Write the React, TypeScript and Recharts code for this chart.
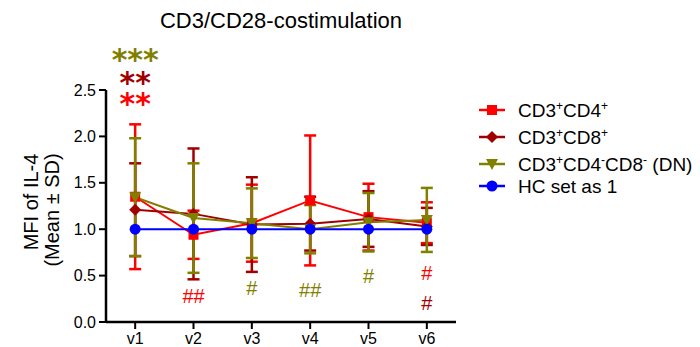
import { ComposedChart, Line, XAxis, YAxis, ErrorBar, ReferenceDot } from "recharts";

const categories = ["v1", "v2", "v3", "v4", "v5", "v6"];

// mean and SD per visit
const cd4Mean = [1.35, 0.94, 1.065, 1.31, 1.13, 1.07];
const cd4Sd = [0.78, 0.26, 0.415, 0.7, 0.36, 0.22];
const cd8Mean = [1.21, 1.165, 1.05, 1.06, 1.11, 1.03];
const cd8Sd = [0.5, 0.705, 0.51, 0.29, 0.3, 0.2];
const dnMean = [1.345, 1.12, 1.065, 1.0, 1.075, 1.1];
const dnSd = [0.635, 0.59, 0.375, 0.26, 0.315, 0.345];
const hcValue = [1, 1, 1, 1, 1, 1];

const yTicks = [0, 0.5, 1, 1.5, 2, 2.5];

// significance marks: category, text, series, level (y value of text baseline)
const markCategory = ["v1", "v1", "v1", "v2", "v3", "v4", "v5", "v6", "v6"];
const markText = ["***", "**", "**", "##", "#", "##", "#", "#", "#"];
const markSeries = ["dn", "cd8", "cd4", "cd4", "dn", "dn", "dn", "cd4", "cd8"];
const markLevel = [2.72, 2.47, 2.24, 0.2, 0.29, 0.27, 0.42, 0.45, 0.13];

const COLORS: Record<string, string> = {
  cd4: "#ff0000",
  cd8: "#a00000",
  dn: "#808000",
  hc: "#0000ff",
};

const FONT = "'Liberation Sans', Arial, Helvetica, sans-serif";

const data = categories.map((visit, i) => ({
  visit,
  cd4: cd4Mean[i],
  cd4Sd: cd4Sd[i],
  cd8: cd8Mean[i],
  cd8Sd: cd8Sd[i],
  dn: dnMean[i],
  dnSd: dnSd[i],
  hc: hcValue[i],
}));

const marks = markText.map((text, i) => ({
  visit: markCategory[i],
  text,
  series: markSeries[i],
  level: markLevel[i],
}));

function Marker({ kind, cx, cy, color }: { kind: string; cx: number; cy: number; color: string }) {
  if (kind === "cd4") return <rect x={cx - 5} y={cy - 5} width={10} height={10} fill={color} />;
  if (kind === "cd8")
    return <polygon points={`${cx},${cy - 6} ${cx + 6},${cy} ${cx},${cy + 6} ${cx - 6},${cy}`} fill={color} />;
  if (kind === "dn")
    return <polygon points={`${cx - 6},${cy - 5} ${cx + 6},${cy - 5} ${cx},${cy + 6}`} fill={color} />;
  return <circle cx={cx} cy={cy} r={5.5} fill={color} />;
}

const dotFor = (kind: string) => (p: any) => (
  <Marker key={`${kind}-${p.index}`} kind={kind} cx={p.cx} cy={p.cy} color={COLORS[kind]} />
);

const Sup = ({ children }: { children: string }) => (
  <tspan dy={-7} fontSize={12}>
    {children}
  </tspan>
);

const legendRows = [
  { kind: "cd4", y: 110 },
  { kind: "cd8", y: 137 },
  { kind: "dn", y: 164 },
  { kind: "hc", y: 186 },
];

function LegendText({ kind, y }: { kind: string; y: number }) {
  const base = y + 7;
  if (kind === "cd4")
    return (
      <text x={518} y={base} fontSize={19}>
        CD3<Sup>+</Sup>
        <tspan dy={7}>CD4</tspan>
        <Sup>+</Sup>
      </text>
    );
  if (kind === "cd8")
    return (
      <text x={518} y={base} fontSize={19}>
        CD3<Sup>+</Sup>
        <tspan dy={7}>CD8</tspan>
        <Sup>+</Sup>
      </text>
    );
  if (kind === "dn")
    return (
      <text x={518} y={base} fontSize={19}>
        CD3<Sup>+</Sup>
        <tspan dy={7}>CD4</tspan>
        <Sup>-</Sup>
        <tspan dy={7}>CD8</tspan>
        <Sup>-</Sup>
        <tspan dy={7}> (DN)</tspan>
      </text>
    );
  return (
    <text x={518} y={base} fontSize={19}>
      HC set as 1
    </text>
  );
}

export default function App() {
  return (
    <div style={{ position: "absolute", left: 0, top: 0, width: 700, height: 347, background: "#fff" }}>
      <ComposedChart width={700} height={347} data={data} margin={{ top: 90, right: 244, bottom: 0, left: 0 }}>
        <XAxis
          dataKey="visit"
          scale="band"
          height={25}
          axisLine={{ stroke: "#000", strokeWidth: 2.5 }}
          tickLine={{ stroke: "#000", strokeWidth: 2 }}
          tickSize={7}
          tickMargin={4}
          tick={{ fill: "#000", fontSize: 16, fontFamily: FONT }}
        />
        <YAxis
          width={106}
          domain={[0, 2.5]}
          ticks={yTicks}
          tickFormatter={(v: number) => v.toFixed(1)}
          axisLine={{ stroke: "#000", strokeWidth: 2.5 }}
          tickLine={{ stroke: "#000", strokeWidth: 2 }}
          tickSize={7}
          tickMargin={3}
          tick={{ fill: "#000", fontSize: 16, fontFamily: FONT }}
        />
        <Line dataKey="cd4" stroke={COLORS.cd4} strokeWidth={2} dot={dotFor("cd4")} isAnimationActive={false}>
          <ErrorBar dataKey="cd4Sd" width={6} stroke={COLORS.cd4} strokeWidth={2.5} direction="y" />
        </Line>
        <Line dataKey="cd8" stroke={COLORS.cd8} strokeWidth={2} dot={dotFor("cd8")} isAnimationActive={false}>
          <ErrorBar dataKey="cd8Sd" width={6} stroke={COLORS.cd8} strokeWidth={2.5} direction="y" />
        </Line>
        <Line dataKey="dn" stroke={COLORS.dn} strokeWidth={2} dot={dotFor("dn")} isAnimationActive={false}>
          <ErrorBar dataKey="dnSd" width={6} stroke={COLORS.dn} strokeWidth={2.5} direction="y" />
        </Line>
        <Line dataKey="hc" stroke={COLORS.hc} strokeWidth={2} dot={dotFor("hc")} isAnimationActive={false} />
        {marks.map((m, i) => (
          <ReferenceDot
            key={`mark-${i}`}
            x={m.visit}
            y={m.level}
            ifOverflow="visible"
            shape={(p: any) =>
              m.text.startsWith("*") ? (
                <text
                  x={p.cx}
                  y={p.cy}
                  textAnchor="middle"
                  fill={COLORS[m.series]}
                  fontSize={30}
                  fontWeight="bold"
                  fontFamily="'DejaVu Sans', sans-serif"
                >
                  {m.text}
                </text>
              ) : (
                <text x={p.cx} y={p.cy} textAnchor="middle" fill={COLORS[m.series]} fontSize={20} fontFamily={FONT}>
                  {m.text}
                </text>
              )
            }
          />
        ))}
      </ComposedChart>
      <svg
        width={700}
        height={347}
        style={{ position: "absolute", left: 0, top: 0, pointerEvents: "none" }}
        fontFamily={FONT}
      >
        <text x={281} y={28} textAnchor="middle" fontSize={22} fill="#000">
          CD3/CD28-costimulation
        </text>
        <text transform="translate(38,202) rotate(-90)" textAnchor="middle" fontSize={20} fill="#000">
          MFI of IL-4
        </text>
        <text transform="translate(59,210) rotate(-90)" textAnchor="middle" fontSize={20} fill="#000">
          (Mean  ± SD)
        </text>
        {legendRows.map((r) => (
          <g key={r.kind} fill="#000">
            <line x1={479} x2={505} y1={r.y} y2={r.y} stroke={COLORS[r.kind]} strokeWidth={2.5} />
            <Marker kind={r.kind} cx={492} cy={r.y} color={COLORS[r.kind]} />
            <LegendText kind={r.kind} y={r.y} />
          </g>
        ))}
      </svg>
    </div>
  );
}
